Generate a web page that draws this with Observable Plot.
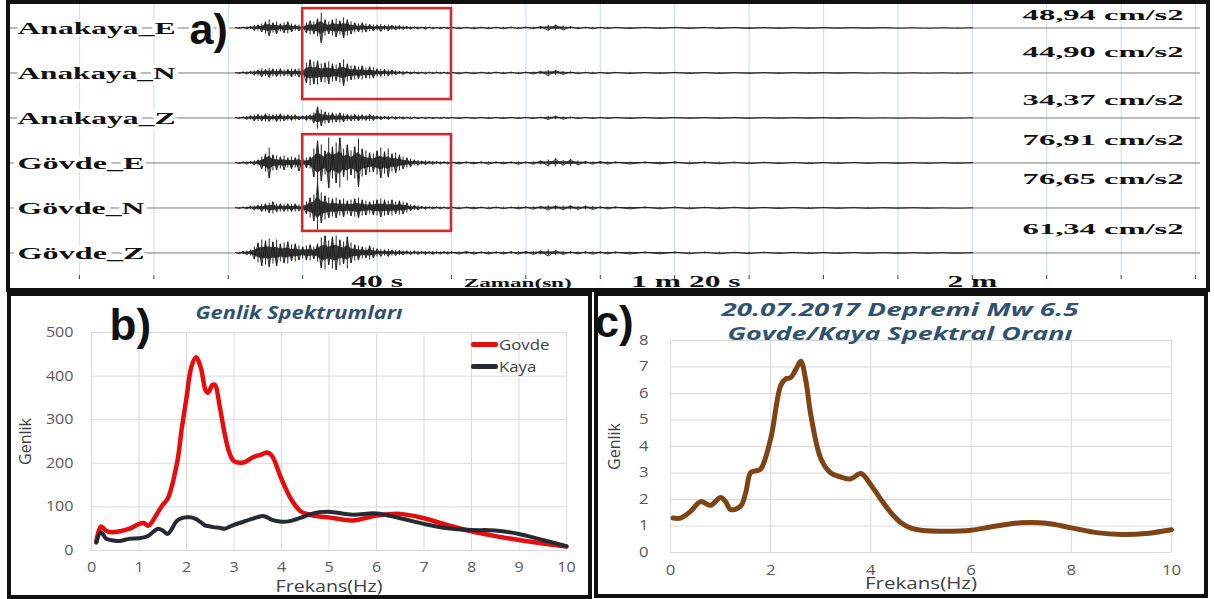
<!DOCTYPE html>
<html lang="tr">
<head>
<meta charset="utf-8">
<title>Genlik spektrumları ve Govde/Kaya spektral oranı</title>
<script src="https://cdn.jsdelivr.net/npm/d3@7"></script>
<script src="https://cdn.jsdelivr.net/npm/@observablehq/plot@0.6"></script>
<style>
  html, body { margin: 0; padding: 0; background: #fff; }
  #root { position: relative; width: 1214px; height: 599px; overflow: hidden; background: #fff; }
  #root svg { position: absolute; }
  .frame { position: absolute; box-sizing: border-box; border: 4px solid #111; z-index: 5; }
  .legend { position: absolute; z-index: 4; font-family: "Open Sans", sans-serif; font-size: 15px; color: #404040; }
  .legend .row { display: flex; align-items: center; height: 22px; }
  .legend .sw { width: 27px; height: 5px; margin-right: 1px; border-radius: 2px; }
  .legend span { display: inline-block; transform: scaleX(1.12); transform-origin: left center; }
</style>
</head>
<body>
<div id="root"></div>
<script>
// ---------------- Panel a) data ----------------
const TRACE_NAMES = ["Anakaya_E", "Anakaya_N", "Anakaya_Z", "Gövde_E", "Gövde_N", "Gövde_Z"];
const PEAK_LABELS = ["48,94 cm/s2", "44,90 cm/s2", "34,37 cm/s2", "76,91 cm/s2", "76,65 cm/s2", "61,34 cm/s2"];
const TIME_TICKS = [0, 10, 20, 30, 40, 50, 60, 70, 80, 90, 100, 110, 120, 130, 140, 150];
const TIME_LABEL_AT = [40, 81.5, 120];
const TIME_LABEL_TEXT = ["40 s", "1 m 20 s", "2 m"];
const TIME_AXIS_LABEL = "Zaman(sn)";
const TIME_AXIS_LABEL_AT = 58.9;
const WINDOW = [30, 50];                       // highlighted window (s)
const BOX_ROWS = [[-0.43, 1.59], [2.37, 4.52]]; // trace rows covered by the red boxes
// sampling grid of the read envelope: 0.5 s, then 1 s, then 2 s
const SAMPLE_TIMES = [...d3.range(21, 50.01, 0.5), ...d3.range(51, 72.01, 1), ...d3.range(74, 120.01, 2)];

// peak amplitude of each trace per sample (display units)
const ENV_ANAKAYA_E = [
  0.3,0.5,0.8,1,1.5,2.5,3,4,6,8, 5,6,4,5,6,4,3,3,2,5, 7,6,9,15,8,6,8,9,7,10,
  8,6,5,4,5,4,3.5,3,3,3.5, 2.5,3,2.5,2,2,1.5,1.5,1.2,1,1, 0.8,1,0.8,0.8,0.7,0.8,0.7,0.7,0.8,
  0.8,0.7,0.8,0.7,0.8,0.7,0.8,0.8,0.7,0.8, 0.8,1.5,2.5,2.8,2,1.2,0.8,0.7,0.8,0.7, 0.7,0.6,
  0.6,0.6,0.5,0.6,0.5,0.6,0.5,0.5,0.5,0.4, 0.5,0.4,0.4,0.4,0.3,0.3,0.3,0.3,0.2,0.2, 0.2,0.2,0.2,0.2];
const ENV_ANAKAYA_N = [
  0.3,0.5,1,1.2,1.5,2,3,4,3.5,4.5, 4,3.5,4,3,3.5,4,3.5,4,3,10, 13,11,12,9,10,11,9,8,10,13,
  9,7,7,6,7,5,6,5,4,3.5, 3.5,3,3,2,1.5,1.5,1.2,1,1,1, 0.8,0.8,0.8,0.7,0.8,0.7,0.7,0.8,0.7,
  0.8,0.7,0.8,0.7,0.7,0.8,0.7,0.8,0.7,0.8, 0.9,1.5,2.7,2.5,1.5,1,0.8,0.7,0.7,0.6, 0.6,0.6,
  0.6,0.5,0.5,0.6,0.5,0.5,0.5,0.4,0.4,0.4, 0.4,0.4,0.3,0.3,0.3,0.3,0.2,0.2,0.2,0.2, 0.2,0.2,0.2,0.2];
const ENV_ANAKAYA_Z = [
  0.3,0.6,1,1.5,2,3,3.5,3,4,3.5, 3,3.5,4,3,3,2.5,3,2,2,2.5, 3,5,11,8,6,5,5,4,5,4,
  3.5,3,3.5,3,3,2.5,3.5,2.5,2,1.8, 1.5,1.5,1.2,1.2,1,1,0.8,0.8,0.7,0.7, 0.7,0.6,0.6,0.6,0.6,0.6,0.6,0.5,0.6,
  0.6,0.6,0.5,0.6,0.6,0.5,0.6,0.6,0.5,0.6, 0.6,0.8,1.5,1.7,1.2,0.8,0.6,0.6,0.5,0.6, 0.5,0.5,
  0.5,0.5,0.5,0.5,0.4,0.4,0.4,0.4,0.4,0.4, 0.3,0.3,0.3,0.3,0.3,0.3,0.2,0.2,0.2,0.2, 0.2,0.2,0.2,0.2];
const ENV_GOVDE_E = [
  0.3,0.6,1,1.2,1.5,2,3,6,9,15, 8,7,6,7,5,6,5,8,4,5, 6,14,22,18,12,25,16,20,25,14,
  18,12,16,24,14,12,10,9,12,15, 11,14,9,10,8,6,5,4,3,2.5, 2,2,1.8,1.5,1.5,1.2,1.2,1,1,
  1,1,0.9,1,1.2,1,0.9,1,1.2,1, 1.2,2,3,4,2.5,3.5,2,1.5,1.2,1.5, 1.2,1,
  1,0.9,0.9,1,0.8,0.9,0.8,0.8,0.7,0.7, 0.6,0.6,0.6,0.5,0.5,0.5,0.4,0.4,0.4,0.3, 0.3,0.3,0.3,0.3];
const ENV_GOVDE_N = [
  0.3,0.5,0.8,1,1.5,2,2.5,3.5,4,5, 6,4,4,3.5,4,3.5,4,3,3,6, 10,13,24,15,12,10,9,10,8,9,
  7,8,9,10,8,7,6,7,8,9, 8,7,8,6,7,6,5,3,2.5,2, 1.5,1.2,1,1,0.9,0.9,0.8,0.8,0.8,
  0.8,0.8,0.9,0.8,0.8,0.9,0.8,0.8,0.9,1, 1.2,1.5,2,2,1.8,2,1.5,1.8,1.5,1.2, 1,1,
  0.9,0.9,0.8,0.8,0.8,0.7,0.7,0.7,0.6,0.6, 0.6,0.5,0.5,0.5,0.4,0.4,0.4,0.3,0.3,0.3, 0.3,0.2,0.2,0.2];
const ENV_GOVDE_Z = [
  0.4,0.8,1.5,2,3,6,10,13,12,14, 11,13,9,10,11,8,9,7,6,7, 8,6,9,15,17,12,16,17,13,11,
  16,10,8,7,6,5,7,5,4,3.5, 3,3.5,3,2.5,2.5,2,2,1.8,1.8,1.5, 1.5,1.5,1.3,1.5,1.3,1.2,1.2,1.2,1.2,
  1.2,1.5,1.2,1,1.2,1,1,1.2,1.2,1.5, 1.5,2,3,2.5,1.5,1.2,1,1.2,1.2,1, 1,1,
  1,0.9,0.9,0.9,0.8,0.8,0.8,0.7,0.7,0.7, 0.6,0.6,0.6,0.5,0.5,0.5,0.4,0.4,0.4,0.3, 0.3,0.3,0.3,0.3];
const ENVELOPES = [ENV_ANAKAYA_E, ENV_ANAKAYA_N, ENV_ANAKAYA_Z, ENV_GOVDE_E, ENV_GOVDE_N, ENV_GOVDE_Z];

// ---------------- Panel b) data ----------------
const FREQ_B = [0.1,0.2,0.3,0.4,0.6,0.8,1.0,1.1,1.2,1.4,1.5,1.6,1.8,1.9,2.0,2.1,2.2,2.3,2.4,2.45,2.55,2.6,2.7,2.8,2.9,3.0,3.2,3.4,3.6,3.7,3.8,4.0,4.2,4.4,4.6,4.8,5.0,5.5,6.0,6.5,7.0,7.5,8.0,8.5,9.0,9.5,10.0];
const GOVDE  = [20,55,46,42,44,50,61,63,57,88,105,118,200,280,350,420,443,420,368,362,380,380,330,270,225,205,202,214,221,225,217,164,118,90,82,78,76,69,80,84,74,58,44,33,24,16,9];
const KAYA   = [18,42,28,24,22,27,28,30,34,50,46,38,68,74,76,76,72,65,57,56,54,53,52,50,54,59,66,73,79,76,70,66,68,75,83,88,89,82,85,74,61,51,47,46,38,24,10];
const SERIES_B = ["Govde", "Kaya"];
const TITLE_B = "Genlik Spektrumları";

// ---------------- Panel c) data ----------------
const FREQ_C = [0.05,0.2,0.4,0.6,0.8,1.0,1.1,1.2,1.4,1.5,1.6,1.7,1.8,2.0,2.2,2.3,2.4,2.5,2.6,2.7,2.8,3.0,3.2,3.4,3.6,3.8,4.0,4.2,4.4,4.6,4.8,5.0,5.5,6.0,6.5,7.0,7.5,8.0,8.5,9.0,9.5,10.0];
const RATIO  = [1.30,1.30,1.55,1.92,1.78,2.08,1.92,1.62,1.75,2.25,3.02,3.08,3.15,4.3,6.3,6.55,6.6,6.9,7.22,6.5,5.2,3.55,3.0,2.85,2.78,2.98,2.55,2.0,1.5,1.12,0.92,0.84,0.8,0.84,1.0,1.12,1.1,0.93,0.75,0.68,0.72,0.86];
const TITLE_C = ["20.07.2017 Depremi Mw 6.5", "Govde/Kaya Spektral Oranı"];

// ---------------- styles ----------------
const SERIF = "'Liberation Serif', 'Times New Roman', serif";
const SANS = "'Open Sans', 'Noto Sans', sans-serif";
const ARIAL = "'Liberation Sans', Arial, sans-serif";
const RED = "#e50d0d", DARK = "#262a33", BROWN = "#7e4414", TITLE = "#2f5272", GRID = "#d9d9d9";
const TRACE_GAIN = 1 / 45;

const root = document.getElementById("root");
function place(svg, left, top) { svg.style.left = left + "px"; svg.style.top = top + "px"; root.appendChild(svg); return svg; }
// widen glyphs horizontally (the reference is horizontally stretched); rule(content) -> factor or {width}
function stretch(svg, rule) {
  svg.querySelectorAll("text, tspan").forEach(el => {
    if (el.tagName === "text" && el.querySelector("tspan")) return;
    const r = rule(el.textContent);
    if (!r) return;
    const w = el.getComputedTextLength();
    if (!(w > 0)) return;
    const target = typeof r === "number" ? w * r : r.width;
    el.setAttribute("textLength", target.toFixed(1));
    el.setAttribute("lengthAdjust", "spacingAndGlyphs");
  });
}

// ---------------- Panel a ----------------
const waves = [], bands = [];
ENVELOPES.forEach((env, k) => env.forEach((a, i) => {
  waves.push({trace: k, t: SAMPLE_TIMES[i], y: k + (i % 2 ? 1 : -1) * a * TRACE_GAIN});
  bands.push({trace: k, t: SAMPLE_TIMES[i], lo: k - a * TRACE_GAIN, hi: k + a * TRACE_GAIN,
              lo2: k - 0.45 * a * TRACE_GAIN, hi2: k + 0.45 * a * TRACE_GAIN});
}));
const AMP_OFFSET = [-0.28, -0.47, -0.41, -0.52, -0.64, -0.54];

const A = Plot.plot({
  width: 1190, height: 290,
  marginTop: 0, marginRight: 0, marginBottom: 18, marginLeft: 0,
  style: {background: "white", overflow: "visible"},
  x: {domain: [-9.27, 150.67], axis: null},
  y: {domain: [5.5, -0.5444], axis: null},
  marks: [
    Plot.ruleX(TIME_TICKS, {stroke: "#c9e6ea", strokeWidth: 1.2}),
    Plot.ruleY(TRACE_NAMES, {y: (d, i) => i, stroke: "#7a7a7a", strokeWidth: 1}),
    Plot.areaY(bands, {x: "t", y1: "lo2", y2: "hi2", z: "trace", fill: "#262626", fillOpacity: 0.9}),
    Plot.ruleX(bands, {x: "t", y1: "lo", y2: "hi", stroke: "#262626", strokeWidth: 1}),
    Plot.line(waves, {x: "t", y: "y", z: "trace", stroke: "#1c1c1c", strokeWidth: 0.9}),
    Plot.rect(BOX_ROWS, {x1: () => WINDOW[0], x2: () => WINDOW[1], y1: d => d[0], y2: d => d[1],
      fill: "none", stroke: "#cf2a2f", strokeWidth: 2.6}),
    Plot.axisX(TIME_TICKS, {tickSize: 4, tickFormat: () => "", stroke: "#444", label: null}),
    Plot.text(TIME_LABEL_AT, {x: d => d, text: (d, i) => TIME_LABEL_TEXT[i], frameAnchor: "bottom", lineAnchor: "middle",
      dy: 6, fontFamily: SERIF, fontWeight: "bold", fontSize: 17, fill: "#111"}),
    Plot.text([TIME_AXIS_LABEL], {x: () => TIME_AXIS_LABEL_AT, frameAnchor: "bottom", lineAnchor: "middle",
      dy: 7, fontFamily: SERIF, fontWeight: "bold", fontSize: 12.5, fill: "#111"}),
    Plot.text(TRACE_NAMES, {y: (d, i) => i, frameAnchor: "left", textAnchor: "start", lineAnchor: "middle", dx: 7,
      fontFamily: SERIF, fontWeight: "bold", fontSize: 17.5, fill: "#111",
      stroke: "white", strokeWidth: 6, paintOrder: "stroke"}),
    Plot.text(PEAK_LABELS, {y: (d, i) => i + AMP_OFFSET[i], frameAnchor: "right", textAnchor: "end", lineAnchor: "middle", dx: -17,
      fontFamily: SERIF, fontWeight: "bold", fontSize: 15.5, fill: "#111"}),
    Plot.text(["a)"], {frameAnchor: "top-left", textAnchor: "start", lineAnchor: "top", dx: 179, dy: 10,
      fontFamily: ARIAL, fontWeight: "bold", fontSize: 43, fill: "#111",
      stroke: "white", strokeWidth: 6, paintOrder: "stroke"})
  ]
});
place(A, 10, 3);
stretch(A, s => TRACE_NAMES.includes(s) ? {width: s.startsWith("Anakaya") ? 158 : 127}
  : PEAK_LABELS.includes(s) ? 2.1
  : (TIME_LABEL_TEXT.includes(s) || s === TIME_AXIS_LABEL) ? 1.85 : null);

// ---------------- Panel b ----------------
const B = Plot.plot({
  width: 580, height: 300,
  marginTop: 36, marginRight: 24, marginBottom: 46, marginLeft: 81,
  style: {background: "white", overflow: "visible", fontFamily: SANS, fontSize: "14px", color: "#595959"},
  x: {domain: [0, 10]},
  y: {domain: [0, 500]},
  marks: [
    Plot.gridX(d3.range(0, 11), {stroke: GRID, strokeOpacity: 1, strokeWidth: 1}),
    Plot.gridY(d3.range(0, 501, 100), {stroke: GRID, strokeOpacity: 1, strokeWidth: 1}),
    Plot.axisX(d3.range(0, 11), {tickSize: 0, tickPadding: 12, label: null}),
    Plot.axisY(d3.range(0, 501, 100), {tickSize: 0, tickPadding: 18, label: null}),
    Plot.line(FREQ_B, {x: d => d, y: (d, i) => GOVDE[i], stroke: RED, strokeWidth: 4.5, curve: "catmull-rom"}),
    Plot.line(FREQ_B, {x: d => d, y: (d, i) => KAYA[i], stroke: DARK, strokeWidth: 4, curve: "catmull-rom"}),
    Plot.text([TITLE_B], {frameAnchor: "top", lineAnchor: "middle", textAnchor: "middle", dx: -30, dy: -19,
      fontSize: 17, fontWeight: "bold", fontStyle: "italic", fill: TITLE}),
    Plot.text(["Frekans(Hz)"], {frameAnchor: "bottom", lineAnchor: "middle", textAnchor: "middle", dy: 36,
      fontSize: 16, fill: "#404040"}),
    Plot.text(["Genlik"], {frameAnchor: "left", lineAnchor: "middle", textAnchor: "middle", dx: -66, rotate: -90,
      fontSize: 16, fill: "#404040"}),
    Plot.text(["b)"], {frameAnchor: "top-left", textAnchor: "start", lineAnchor: "top", dx: 18, dy: -24,
      fontFamily: ARIAL, fontWeight: "bold", fontSize: 44, fill: "#111"})
  ]
});
place(B, 10, 296);
stretch(B, s => s === TITLE_B ? {width: 207} : s === "Frekans(Hz)" ? {width: 107}
  : (s === "Genlik" || s === "b)") ? null : 1.15);

// ---------------- Panel c ----------------
const C = Plot.plot({
  width: 610, height: 300,
  marginTop: 44, marginRight: 33, marginBottom: 44, marginLeft: 76,
  style: {background: "white", overflow: "visible", fontFamily: SANS, fontSize: "14px", color: "#595959"},
  x: {domain: [0, 10]},
  y: {domain: [0, 8]},
  marks: [
    Plot.gridX(d3.range(0, 11, 2), {stroke: GRID, strokeOpacity: 1, strokeWidth: 1}),
    Plot.gridY(d3.range(0, 9), {stroke: GRID, strokeOpacity: 1, strokeWidth: 1}),
    Plot.axisX(d3.range(0, 11, 2), {tickSize: 0, tickPadding: 13, label: null}),
    Plot.axisY(d3.range(0, 9), {tickSize: 0, tickPadding: 22, label: null}),
    Plot.line(FREQ_C, {x: d => d, y: (d, i) => RATIO[i], stroke: BROWN, strokeWidth: 5, curve: "catmull-rom"}),
    Plot.text([TITLE_C.join("\n")], {frameAnchor: "top", lineAnchor: "middle", textAnchor: "middle",
      dx: -21, dy: -20, lineHeight: 1.3, fontSize: 18.5, fontWeight: "bold", fontStyle: "italic", fill: TITLE}),
    Plot.text(["Frekans(Hz)"], {frameAnchor: "bottom", lineAnchor: "middle", textAnchor: "middle", dy: 31,
      fontSize: 16, fill: "#404040"}),
    Plot.text(["Genlik"], {frameAnchor: "left", lineAnchor: "middle", textAnchor: "middle", dx: -56, rotate: -90,
      fontSize: 16, fill: "#404040"}),
    Plot.text(["c)"], {frameAnchor: "top-left", textAnchor: "start", lineAnchor: "top", dx: -76, dy: -35,
      fontFamily: ARIAL, fontWeight: "bold", fontSize: 44, fill: "#111"})
  ]
});
place(C, 594, 296);
stretch(C, s => s === TITLE_C[0] ? {width: 357} : s === TITLE_C[1] ? {width: 345}
  : s === "Frekans(Hz)" ? {width: 112} : (s === "Genlik" || s === "c)") ? null : 1.2);

// ---------------- frames and legend ----------------
[[6, 0, 1204, 292], [7, 292, 585, 307], [594, 292, 614, 306]].forEach(([l, t, w, h]) => {
  const d = document.createElement("div");
  d.className = "frame";
  Object.assign(d.style, {left: l + "px", top: t + "px", width: w + "px", height: h + "px"});
  root.appendChild(d);
});
const legend = document.createElement("div");
legend.className = "legend";
Object.assign(legend.style, {left: "471px", top: "333px"});
SERIES_B.forEach((name, i) => {
  const row = document.createElement("div");
  row.className = "row";
  const sw = document.createElement("div");
  sw.className = "sw";
  sw.style.background = [RED, DARK][i];
  const sp = document.createElement("span");
  sp.textContent = name;
  row.appendChild(sw); row.appendChild(sp);
  legend.appendChild(row);
});
root.appendChild(legend);
</script>
</body>
</html>
